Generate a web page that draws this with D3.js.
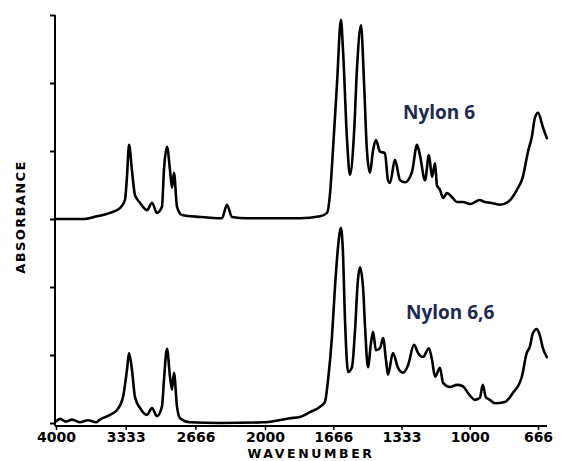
<!DOCTYPE html>
<html>
<head>
<meta charset="utf-8">
<script src="https://cdn.jsdelivr.net/npm/d3@7"></script>
<style>
  body { margin: 0; background: #fff; }
  svg { display: block; }
</style>
</head>
<body>
<div class="graph"></div>
<script>
// x axis ticks (wavenumber, cm-1) - scale is compressed above 2000
const xTickValues = [4000, 3333, 2666, 2000, 1666, 1333, 1000, 666];
const xTickLabels = ['4000', '3333', '2666', '2000', '1666', '1333', '1000', '666'];
const yTickValues = [0, 1, 2, 3, 4, 5, 6];

// Nylon 6 (upper trace, drawn with an offset of 3 units)
const nylon6Offset = 3;
const nylon6Wn = [4000, 3742, 3608, 3483, 3388, 3340, 3321, 3301, 3273, 3244, 3196, 3129, 3081, 3034, 2986, 2967, 2938, 2909, 2890, 2871, 2842, 2794, 2622, 2412, 2364, 2316, 2172,
  1829, 1731, 1697, 1682, 1668, 1648, 1629, 1619, 1599, 1585, 1565, 1550, 1531, 1516, 1502, 1487, 1472, 1458, 1438, 1414, 1399, 1389, 1365, 1340, 1316, 1282, 1257, 1243, 1218,
  1199, 1184, 1169, 1160, 1145, 1130, 1111, 1086, 1062, 1033, 998, 950, 926, 901, 853, 813, 769, 740, 715, 696, 681, 666, 642, 623];
const nylon6Abs = [0, 0, 0.04, 0.09, 0.16, 0.28, 0.62, 1.09, 0.71, 0.35, 0.24, 0.13, 0.24, 0.09, 0.18, 0.72, 1.06, 0.72, 0.46, 0.68, 0.18, 0.06, 0.03, 0.01, 0.21, 0.03, 0.01,
  0.01, 0.04, 0.09, 0.38, 1.01, 2.0, 2.93, 2.49, 1.16, 0.65, 1.26, 2.24, 2.85, 2.0, 1.01, 0.68, 1.01, 1.16, 0.99, 0.97, 0.57, 0.53, 0.87, 0.57, 0.54, 0.69, 1.09, 0.94, 0.57,
  0.94, 0.62, 0.82, 0.50, 0.43, 0.31, 0.38, 0.32, 0.25, 0.25, 0.22, 0.28, 0.25, 0.24, 0.21, 0.25, 0.43, 0.62, 0.99, 1.21, 1.49, 1.56, 1.35, 1.19];

// Nylon 6,6 (lower trace)
const nylon66Wn = [4000, 3962, 3904, 3847, 3770, 3694, 3617, 3579, 3483, 3416, 3359, 3321, 3301, 3273, 3244, 3196, 3129, 3081, 3034, 2986, 2967, 2938, 2909, 2890, 2871, 2842, 2813, 2718, 2431, 2019,
  1878, 1829, 1780, 1731, 1707, 1692, 1673, 1658, 1643, 1629, 1619, 1609, 1594, 1575, 1560, 1546, 1536, 1521, 1511, 1497, 1482, 1472, 1458, 1438, 1423, 1409, 1399, 1375, 1350, 1326, 1301,
  1272, 1252, 1228, 1199, 1184, 1169, 1145, 1130, 1096, 1062, 1033, 1008, 974, 950, 936, 921, 901, 877, 828, 789, 745, 721, 706, 691, 672, 657, 642, 623];
const nylon66Abs = [0.02, 0.06, 0.02, 0.05, 0.01, 0.04, 0.01, 0.05, 0.12, 0.19, 0.38, 0.78, 1.03, 0.78, 0.38, 0.22, 0.12, 0.22, 0.10, 0.24, 0.63, 1.09, 0.68, 0.49, 0.74, 0.24, 0.07, 0.01, 0, 0.01,
  0.07, 0.09, 0.16, 0.24, 0.31, 0.63, 1.26, 2.0, 2.59, 2.87, 2.5, 1.51, 0.75, 0.82, 1.37, 2.10, 2.29, 2.0, 1.41, 0.82, 1.18, 1.34, 1.07, 1.10, 1.25, 0.93, 0.71, 1.03, 0.81, 0.74, 0.85,
  1.15, 1.03, 0.97, 1.10, 0.93, 0.68, 0.81, 0.59, 0.53, 0.56, 0.54, 0.44, 0.34, 0.37, 0.56, 0.38, 0.34, 0.29, 0.31, 0.44, 0.68, 1.03, 1.12, 1.32, 1.38, 1.29, 1.10, 0.97];

const W = 563, H = 461;
const svg = d3.select('.graph').append('svg').attr('width', W).attr('height', H);

const xScale = d3.scaleLinear().domain([4000, 2000, 666]).range([56, 265, 538]);
const yScale = d3.scaleLinear().domain([0, 6]).range([423, 15]);

const labelFont = 'DejaVu Sans, sans-serif';

// y axis: tick marks only
const yAxis = d3.axisLeft(yScale).tickValues(yTickValues).tickSize(5).tickSizeOuter(0).tickFormat('');
const gy = svg.append('g').attr('transform', 'translate(55,0)').call(yAxis);
gy.select('.domain').attr('stroke-width', 2).attr('d', `M0,${yScale(6)}V426`);
gy.selectAll('.tick line').attr('stroke-width', 2);

// x axis
const xAxis = d3.axisBottom(xScale).tickValues(xTickValues).tickSize(4).tickSizeOuter(0)
  .tickFormat((d, i) => xTickLabels[i]);
const gx = svg.append('g').attr('transform', 'translate(0,426)').call(xAxis);
gx.select('.domain').attr('stroke-width', 2).attr('d', 'M55,0H547');
gx.selectAll('.tick line').attr('stroke-width', 1.5);
gx.selectAll('.tick text')
  .attr('y', 16).attr('dy', 0)
  .style('font-family', labelFont).style('font-size', '14px').style('font-weight', 'bold')
  .attr('fill', '#000');

svg.append('text').attr('x', 311).attr('y', 458).attr('text-anchor', 'middle')
  .style('font-family', labelFont).style('font-size', '12.5px').style('font-weight', 'bold')
  .style('letter-spacing', '2.6px').text('WAVENUMBER');

svg.append('text').attr('transform', 'translate(25,217) rotate(-90)').attr('text-anchor', 'middle')
  .style('font-family', labelFont).style('font-size', '13px').style('font-weight', 'bold')
  .style('letter-spacing', '1.4px').text('ABSORBANCE');

// spectra
const spectrum = d3.line().x(d => xScale(d[0])).y(d => yScale(d[1])).curve(d3.curveMonotoneX);

const top6 = nylon6Wn.map((w, i) => [w, nylon6Abs[i] + nylon6Offset]);
const bot66 = nylon66Wn.map((w, i) => [w, nylon66Abs[i]]);

[top6, bot66].forEach(pts => {
  svg.append('path').datum(pts).attr('d', spectrum)
    .attr('fill', 'none').attr('stroke', '#000').attr('stroke-width', 2.6)
    .attr('stroke-linejoin', 'round').attr('stroke-linecap', 'round');
});

// trace labels
svg.append('text').attr('x', 403).attr('y', 119)
  .style('font-family', 'Open Sans, sans-serif').style('font-size', '19px').style('font-weight', 'bold')
  .attr('fill', '#1c2a52').text('Nylon 6');
svg.append('text').attr('x', 406).attr('y', 319)
  .style('font-family', 'Open Sans, sans-serif').style('font-size', '19px').style('font-weight', 'bold')
  .attr('fill', '#1c2a52').text('Nylon 6,6');
</script>
</body>
</html>
